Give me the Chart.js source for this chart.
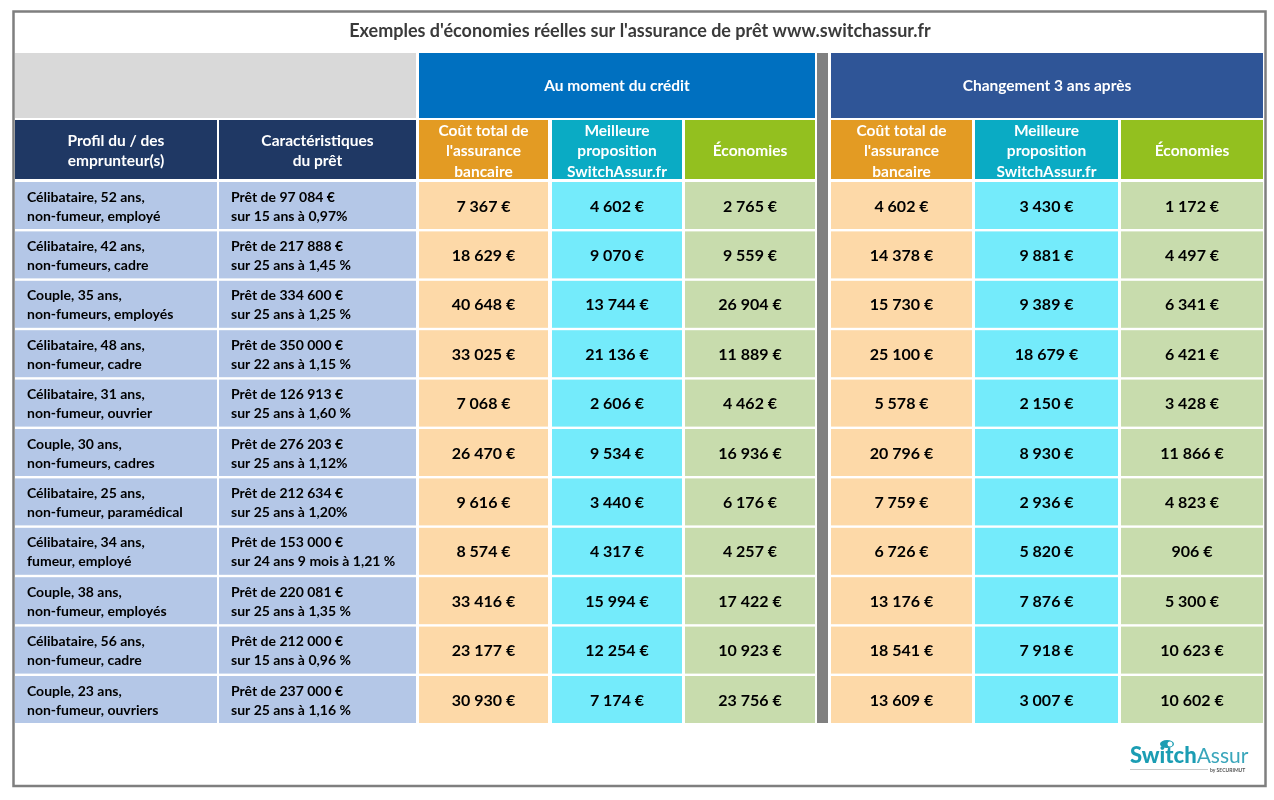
<!DOCTYPE html>
<html><head><meta charset="utf-8">
<script src="https://cdn.jsdelivr.net/npm/chart.js@4.4.1/dist/chart.umd.min.js"></script>
<style>html,body{margin:0;padding:0;background:#fff;}canvas{display:block;}</style>
</head><body>
<canvas id="c" width="1274" height="800"></canvas>
<script>
const title = "Exemples d'économies réelles sur l'assurance de prêt www.switchassur.fr";
const groupTitles = ["Au moment du crédit", "Changement 3 ans après"];
const leftHeaders = [["Profil du / des", "emprunteur(s)"], ["Caractéristiques", "du prêt"]];
const valueHeaders = [["Coût total de", "l'assurance", "bancaire"], ["Meilleure", "proposition", "SwitchAssur.fr"], ["Économies"]];
const profiles = [
  ["Célibataire, 52 ans,", "non-fumeur, employé"],
  ["Célibataire, 42 ans,", "non-fumeurs, cadre"],
  ["Couple, 35 ans,", "non-fumeurs, employés"],
  ["Célibataire, 48 ans,", "non-fumeur, cadre"],
  ["Célibataire, 31 ans,", "non-fumeur, ouvrier"],
  ["Couple, 30 ans,", "non-fumeurs, cadres"],
  ["Célibataire, 25 ans,", "non-fumeur, paramédical"],
  ["Célibataire, 34 ans,", "fumeur, employé"],
  ["Couple, 38 ans,", "non-fumeur, employés"],
  ["Célibataire, 56 ans,", "non-fumeur, cadre"],
  ["Couple, 23 ans,", "non-fumeur, ouvriers"]
];
const loans = [
  ["Prêt de 97 084 €", "sur 15 ans à 0,97%"],
  ["Prêt de 217 888 €", "sur 25 ans à 1,45 %"],
  ["Prêt de 334 600 €", "sur 25 ans à 1,25 %"],
  ["Prêt de 350 000 €", "sur 22 ans à 1,15 %"],
  ["Prêt de 126 913 €", "sur 25 ans à 1,60 %"],
  ["Prêt de 276 203 €", "sur 25 ans à 1,12%"],
  ["Prêt de 212 634 €", "sur 25 ans à 1,20%"],
  ["Prêt de 153 000 €", "sur 24 ans 9 mois à 1,21 %"],
  ["Prêt de 220 081 €", "sur 25 ans à 1,35 %"],
  ["Prêt de 212 000 €", "sur 15 ans à 0,96 %"],
  ["Prêt de 237 000 €", "sur 25 ans à 1,16 %"]
];
const costBankAtCredit = [7367, 18629, 40648, 33025, 7068, 26470, 9616, 8574, 33416, 23177, 30930];
const bestOfferAtCredit = [4602, 9070, 13744, 21136, 2606, 9534, 3440, 4317, 15994, 12254, 7174];
const savingsAtCredit = [2765, 9559, 26904, 11889, 4462, 16936, 6176, 4257, 17422, 10923, 23756];
const costBankAfter3y = [4602, 14378, 15730, 25100, 5578, 20796, 7759, 6726, 13176, 18541, 13609];
const bestOfferAfter3y = [3430, 9881, 9389, 18679, 2150, 8930, 2936, 5820, 7876, 7918, 3007];
const savingsAfter3y = [1172, 4497, 6341, 6421, 3428, 11866, 4823, 906, 5300, 10623, 10602];

// layout (in scale units)
const colEdges = [[15,217],[219,416],[419,548],[552,682],[685,815],[831,972],[975,1118],[1121,1263]];
const rowTop = 182, rowPitch = 49.4, rowHeight = 47;
const FONT = "Lato, 'Open Sans', sans-serif";

function fmt(v){ return String(v).replace(/\B(?=(\d{3})+(?!\d))/g, ' ') + ' €'; }

const tablePlugin = {
  id: 'table',
  afterDraw(chart){
    const ctx = chart.ctx, xs = chart.scales.x, ys = chart.scales.y;
    const X = v => xs.getPixelForValue(v), Y = v => ys.getPixelForValue(v);
    const rect = (x0,y0,x1,y1,col) => { ctx.fillStyle = col; ctx.fillRect(X(x0), Y(y0), X(x1)-X(x0), Y(y1)-Y(y0)); };
    const lines = (arr, cx, cy, spacing, align, color, font) => {
      ctx.fillStyle = color; ctx.font = font; ctx.textAlign = align; ctx.textBaseline = 'middle';
      const n = arr.length;
      arr.forEach((t,i)=>{ ctx.fillText(t, X(cx), Y(cy + (i-(n-1)/2)*spacing)); });
    };
    ctx.save();
    // outer frame
    ctx.strokeStyle = '#7f7f7f'; ctx.lineWidth = 2.5;
    ctx.strokeRect(X(13.5), Y(11.5), X(1265.5)-X(13.5), Y(786)-Y(11.5));
    // title
    lines([title], 640, 31.5, 0, 'center', '#3a3a3a', "bold 18px " + FONT);
    // group header row
    rect(15,53,416,118,'#d9d9d9');
    rect(419,53,815,118,'#0070c0');
    rect(831,53,1263,118,'#2f5597');
    rect(817,53,828,723,'#808080');
    lines([groupTitles[0]], (419+815)/2, 86, 0, 'center', '#ffffff', "bold 15.5px " + FONT);
    lines([groupTitles[1]], (831+1263)/2, 86, 0, 'center', '#ffffff', "bold 15.5px " + FONT);
    // column header row
    const hdrCols = ['#1f3864','#1f3864','#e39b23','#0aabc4','#93c01f','#e39b23','#0aabc4','#93c01f'];
    const hdrTexts = [leftHeaders[0], leftHeaders[1], valueHeaders[0], valueHeaders[1], valueHeaders[2], valueHeaders[0], valueHeaders[1], valueHeaders[2]];
    colEdges.forEach((e,i)=>{
      rect(e[0],120,e[1],179,hdrCols[i]);
      lines(hdrTexts[i], (e[0]+e[1])/2, 151, 20.5, 'center', '#ffffff', "bold 15.5px " + FONT);
    });
    // data rows
    const bodyCols = ['#b4c7e7','#b4c7e7','#fdd9a8','#74ebfb','#c8dcad','#fdd9a8','#74ebfb','#c8dcad'];
    const series = [costBankAtCredit, bestOfferAtCredit, savingsAtCredit, costBankAfter3y, bestOfferAfter3y, savingsAfter3y];
    profiles.forEach((p,r)=>{
      const y0 = rowTop + r*rowPitch, y1 = y0 + rowHeight, cy = (y0+y1)/2 + 1;
      colEdges.forEach((e,i)=>{ rect(e[0],y0,e[1],y1,bodyCols[i]); });
      lines(p, colEdges[0][0]+12, cy, 19, 'left', '#000000', "bold 14px " + FONT);
      lines(loans[r], colEdges[1][0]+12, cy, 19, 'left', '#000000', "bold 14px " + FONT);
      series.forEach((s,k)=>{
        const e = colEdges[k+2];
        lines([fmt(s[r])], (e[0]+e[1])/2, cy, 0, 'center', '#000000', "bold 16px " + FONT);
      });
    });
    // logo
    ctx.textAlign = 'left'; ctx.textBaseline = 'alphabetic';
    ctx.font = "900 22px " + FONT; ctx.fillStyle = '#1b9db3';
    ctx.fillText('Switch', X(1130), Y(763));
    const w = ctx.measureText('Switch').width;
    ctx.font = "21px " + FONT; ctx.fillStyle = '#3aa6bb';
    ctx.fillText('Assur', X(1130)+w, Y(763));
    ctx.fillStyle = '#1b9db3';
    ctx.beginPath(); ctx.ellipse(X(1167), Y(744), 7, 4, 0, 0, Math.PI*2); ctx.fill();
    ctx.fillStyle = '#ffffff'; ctx.beginPath(); ctx.arc(X(1170), Y(744), 2.5, 0, Math.PI*2); ctx.fill();
    ctx.strokeStyle = '#c8c8c8'; ctx.lineWidth = 1;
    ctx.beginPath(); ctx.moveTo(X(1130), Y(769.5)); ctx.lineTo(X(1208), Y(769.5)); ctx.stroke();
    ctx.font = "bold 5px " + FONT; ctx.fillStyle = '#555';
    ctx.fillText('by SECURIMUT', X(1210), Y(771.5));
    ctx.restore();
  }
};

new Chart(document.getElementById('c'), {
  type: 'scatter',
  data: { datasets: [{ data: [], pointRadius: 0 }] },
  options: {
    responsive: false, animation: false,
    layout: { padding: 0 },
    plugins: { legend: { display: false }, tooltip: { enabled: false } },
    scales: {
      x: { type: 'linear', min: 0, max: 1274, display: false },
      y: { type: 'linear', min: 0, max: 800, reverse: true, display: false }
    }
  },
  plugins: [tablePlugin]
});
</script>
</body></html>
